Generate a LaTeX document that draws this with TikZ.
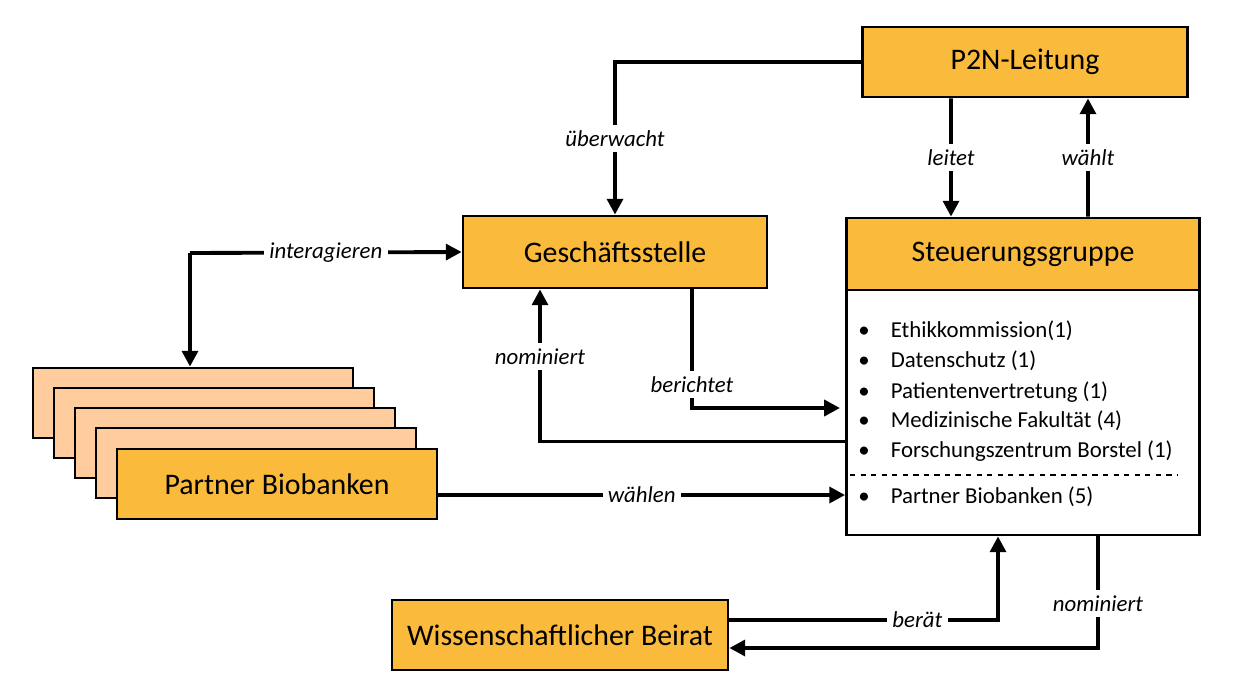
\documentclass[tikz,border=0pt]{standalone}
\usepackage{fontspec}
\setmainfont{Carlito}
\usetikzlibrary{arrows.meta,calc}
\definecolor{boxorange}{HTML}{FABA3C}
\definecolor{boxpeach}{HTML}{FFCC9E}
\tikzset{
  box/.style={draw, line width=1.6pt, fill=boxorange, font=\fontsize{17}{20}\selectfont, inner sep=0pt},
  back/.style={draw, line width=1.6pt, fill=boxpeach, minimum width=6.4cm, minimum height=1.4cm},
  conn/.style={line width=2.2pt, -{Triangle[length=9pt,width=9pt]}},
  lab/.style={fill=white, font=\fontsize{13}{15}\selectfont\itshape, inner sep=3pt},
  item/.style={anchor=west, font=\fontsize{13}{15}\selectfont, inner sep=0pt}
}
\begin{document}
\begin{tikzpicture}[x=0.02cm, y=-0.02cm]
  \useasboundingbox (0,0) rectangle (1240,697);

  % partner stack
  \foreach \i/\cx/\cy in {1/193/403, 2/214/423, 3/235/443, 4/256/463}
    \node[back] (pb\i) at (\cx,\cy) {};
  \node[box, minimum width=6.4cm, minimum height=1.4cm] (pb) at (277,484) {Partner Biobanken};

  % boxes
  \node[box, minimum width=6.5cm, minimum height=1.4cm] (p2n) at (1025,62) {P2N-Leitung};
  \node[box, minimum width=6.08cm, minimum height=1.44cm] (gs) at (615,252) {Geschäftsstelle};
  \node[draw, line width=1.6pt, fill=white, minimum width=7.06cm, minimum height=4.9cm] (body) at (1023,412.5) {};
  \node[box, minimum width=7.06cm, minimum height=1.44cm] (sg) at (1023,254) {Steuerungsgruppe};
  \node[box, minimum width=6.72cm, minimum height=1.4cm] (wb) at (560,635) {Wissenschaftlicher Beirat};

  % members
  \foreach \t/\y in {Ethikkommission(1)/331, Datenschutz (1)/361, Patientenvertretung (1)/392,
                     Medizinische Fakultät (4)/421, Forschungszentrum Borstel (1)/451, Partner Biobanken (5)/497}
    \node[item] at (858,\y) {•\hspace{12pt}\t};
  \coordinate (dl) at (850,475);
  \coordinate (dr) at (1178,475);
  \draw[dashed, line width=1pt] (dl) -- (dr);

  % connectors
  \draw[conn] (p2n.west) -| node[lab, pos=0.75] {überwacht} (gs.north);
  \draw[conn] ([xshift=-1.48cm]p2n.south) -- node[lab] {leitet} ([xshift=-1.44cm]sg.north);
  \draw[conn] ([xshift=1.3cm]sg.north) -- node[lab] {wählt} ([xshift=1.26cm]p2n.south);
  \coordinate (ic) at (190,253);
  \draw[conn] (ic) -- node[lab] {interagieren} (gs.west);
  \draw[conn] (ic) -- (pb1.north -| ic);
  \draw[conn] ([yshift=-0.58cm]body.west) -| node[lab, pos=0.78] {nominiert} ([xshift=-1.5cm]gs.south);
  \coordinate (bt) at (840,408);
  \draw[conn] ([xshift=1.54cm]gs.south) |- node[lab, pos=0.4] {berichtet} (bt);
  \draw[conn] (pb.east |- 0,495) -- node[lab] {wählen} (body.west |- 0,495);
  \draw[conn] ([yshift=0.3cm]wb.east) -| node[lab, pos=0.35] {berät} ([xshift=-0.5cm]body.south);
  \draw[conn] ([xshift=1.5cm]body.south) |- node[lab, pos=0.3] {nominiert} ([yshift=-0.26cm]wb.east);
\end{tikzpicture}
\end{document}
